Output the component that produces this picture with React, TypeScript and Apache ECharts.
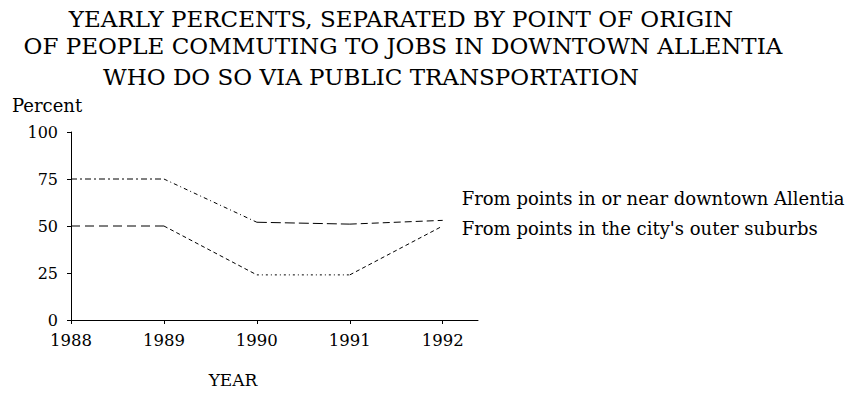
import React, { useEffect, useRef } from "react";
import * as echarts from "echarts";

const years = [1988, 1989, 1990, 1991, 1992];
const downtown = [75, 75, 52, 51, 53];
const suburbs = [50, 50, 24, 24, 50];
const yTicks = [0, 25, 50, 75, 100];
const titleLines = [
  "YEARLY PERCENTS, SEPARATED BY POINT OF ORIGIN",
  "OF PEOPLE COMMUTING TO JOBS IN DOWNTOWN ALLENTIA",
  "WHO DO SO VIA PUBLIC TRANSPORTATION",
];
const seriesNames = [
  "From points in or near downtown Allentia",
  "From points in the city's outer suburbs",
];

const FONT = "DejaVu Serif";

// dash pattern of each segment between consecutive years
const downtownDashes = [[6, 3, 2, 3], [4, 3, 1, 3], [10, 4], [7, 4]];
const suburbsDashes = [[9, 5], [4, 3], [2, 3, 1, 3], [4, 3]];

function segmentSeries(name: string, values: number[], dashes: number[][], labelOffset: number[]) {
  const out: any[] = [];
  for (let i = 0; i < values.length - 1; i++) {
    const last = i === values.length - 2;
    out.push({
      name,
      type: "line",
      data: [
        [years[i], values[i]],
        [years[i + 1], values[i + 1]],
      ],
      symbol: "none",
      silent: true,
      lineStyle: { color: "#000", width: 1, type: dashes[i] },
      endLabel: last
        ? {
            show: true,
            formatter: name,
            color: "#000",
            fontFamily: FONT,
            fontSize: 18,
            distance: 19,
            offset: labelOffset,
          }
        : { show: false },
    });
  }
  return out;
}

export default function App() {
  const ref = useRef<HTMLDivElement>(null);
  useEffect(() => {
    if (!ref.current) return;
    const chart = echarts.init(ref.current, undefined, { renderer: "svg" });
    const titleX = [401, 403, 371];
    const titleY = [19, 46, 77];
    chart.setOption({
      animation: false,
      backgroundColor: "#ffffff",
      grid: { left: 71, right: 373, top: 132, bottom: 83, containLabel: false },
      xAxis: {
        type: "value",
        min: 1988,
        max: 1992.38,
        interval: 1,
        axisLine: { show: true, lineStyle: { color: "#000", width: 1 } },
        axisTick: { show: true, length: 4, inside: false, lineStyle: { color: "#000" } },
        axisLabel: {
          color: "#000",
          fontFamily: FONT,
          fontSize: 16.5,
          margin: 12,
          showMaxLabel: false,
          formatter: (v: number) => (years.includes(v) ? String(v) : ""),
        },
        splitLine: { show: false },
      },
      yAxis: {
        type: "value",
        min: 0,
        max: 100,
        interval: 25,
        axisLine: { show: true, lineStyle: { color: "#000", width: 1 } },
        axisTick: { show: true, length: 4, lineStyle: { color: "#000" } },
        axisLabel: {
          color: "#000",
          fontFamily: FONT,
          fontSize: 16,
          margin: 13,
          formatter: (v: number) => (yTicks.includes(v) ? String(v) : ""),
        },
        splitLine: { show: false },
      },
      graphic: [
        ...titleLines.map((t, i) => ({
          type: "text",
          x: titleX[i],
          y: titleY[i],
          style: {
            text: t,
            fontFamily: FONT,
            fontSize: 23,
            fill: "#000",
            textAlign: "center",
            textVerticalAlign: "middle",
          },
        })),
        {
          type: "text",
          x: 12,
          y: 105,
          style: { text: "Percent", fontFamily: FONT, fontSize: 18, fill: "#000", textVerticalAlign: "middle" },
        },
        {
          type: "text",
          x: 233,
          y: 380,
          style: { text: "YEAR", fontFamily: FONT, fontSize: 17, fill: "#000", textAlign: "center", textVerticalAlign: "middle" },
        },
      ],
      series: [
        ...segmentSeries(seriesNames[0], downtown, downtownDashes, [0, -22]),
        ...segmentSeries(seriesNames[1], suburbs, suburbsDashes, [0, 2]),
      ],
    });
    return () => chart.dispose();
  }, []);
  return <div ref={ref} style={{ position: "fixed", left: 0, top: 0, width: 851, height: 403 }} />;
}
